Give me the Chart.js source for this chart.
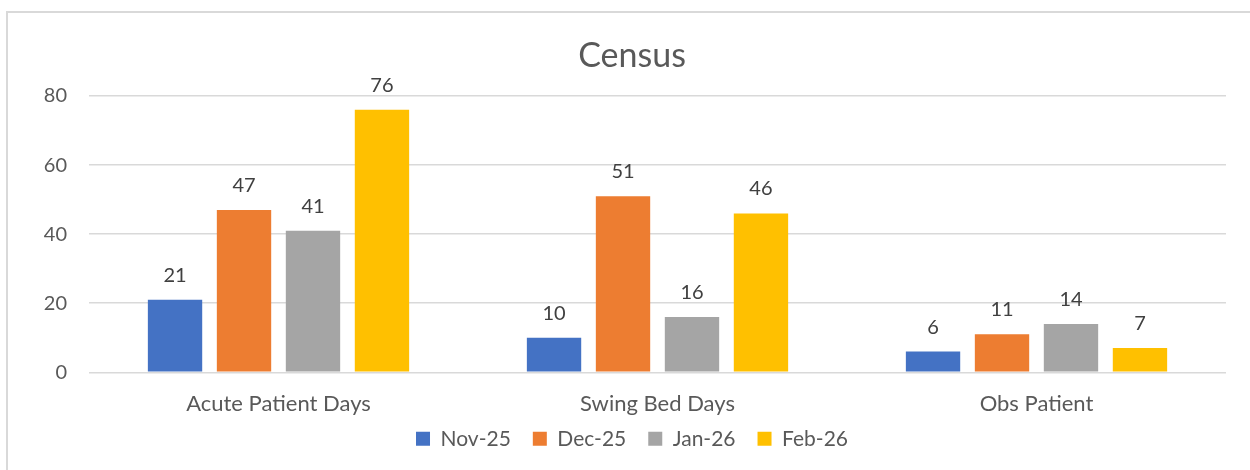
<!DOCTYPE html>
<html>
<head>
<meta charset="utf-8">
<script src="https://cdn.jsdelivr.net/npm/chart.js@4/dist/chart.umd.min.js"></script>
<style>
  html, body { margin: 0; padding: 0; background: #fff; overflow: hidden; }
  #frame { position: absolute; left: 6px; top: 11px; width: 1300px; height: 500px; border: 2px solid #d9d9d9; }
  #chart { position: absolute; left: 0; top: 0; }
</style>
</head>
<body>
<div id="frame"></div>
<canvas id="chart" width="1250" height="470"></canvas>
<script>
// dados do gráfico
const categories = ['Acute Patient Days', 'Swing Bed Days', 'Obs Patient'];
const months = ['Nov-25', 'Dec-25', 'Jan-26', 'Feb-26'];
const nov25 = [21, 10, 6];
const dec25 = [47, 51, 11];
const jan26 = [41, 16, 14];
const feb26 = [76, 46, 7];
const yTicks = [0, 20, 40, 60, 80];

const colors = ['#4472c4', '#ed7d31', '#a5a5a5', '#ffc000'];
const fontFamily = 'Lato, "Open Sans", sans-serif';

// rótulos de valor em cima das barras
const valueLabels = {
    id: 'valueLabels',
    afterLayout(chart) {
        // sobe a legenda para ficar mais perto do eixo
        if (chart.legend) {
            chart.legend.top -= 10.7;
            chart.legend.bottom -= 10.7;
        }
    },
    afterDatasetsDraw(chart) {
        const ctx = chart.ctx;
        ctx.save();
        ctx.font = '20px ' + fontFamily;
        ctx.fillStyle = '#404040';
        ctx.textAlign = 'center';
        ctx.textBaseline = 'alphabetic';
        chart.data.datasets.forEach((ds, i) => {
            chart.getDatasetMeta(i).data.forEach((bar, j) => {
                ctx.fillText(String(ds.data[j]), bar.x, bar.y - 18);
            });
        });
        ctx.restore();
    }
};

const seriesData = [nov25, dec25, jan26, feb26];

new Chart(document.getElementById('chart'), {
    type: 'bar',
    data: {
        labels: categories,
        datasets: months.map((m, i) => ({
            label: m,
            data: seriesData[i],
            backgroundColor: colors[i],
            borderWidth: 0,
            categoryPercentage: 0.728,
            barPercentage: 0.788,
        }))
    },
    options: {
        responsive: false,
        animation: false,
        layout: { padding: { top: 0, left: 38, right: 24, bottom: 0 } },
        plugins: {
            title: {
                display: true,
                text: 'Census',
                color: '#595959',
                font: { family: fontFamily, size: 34, weight: 'normal' },
                padding: { top: 36, bottom: 19.2 }
            },
            legend: {
                display: true,
                position: 'bottom',
                labels: {
                    color: '#595959',
                    font: { family: fontFamily, size: 21 },
                    boxWidth: 14,
                    boxHeight: 14,
                    padding: 22
                }
            },
            tooltip: { enabled: false }
        },
        scales: {
            x: {
                grid: { display: false, drawTicks: false },
                border: { display: false },
                ticks: { color: '#595959', font: { family: fontFamily, size: 22 }, padding: 18.3 },
                afterFit: s => { s.height = 44.7; }
            },
            y: {
                min: 0,
                max: 80,
                afterBuildTicks: s => { s.ticks = yTicks.map(v => ({ value: v })); },
                grid: { color: '#d9d9d9', lineWidth: 1.5, drawTicks: false },
                border: { display: false },
                ticks: { color: '#595959', font: { family: fontFamily, size: 20 }, padding: 22 },
                afterFit: s => { s.width = 51; }
            }
        }
    },
    plugins: [valueLabels]
});
</script>
</body>
</html>
